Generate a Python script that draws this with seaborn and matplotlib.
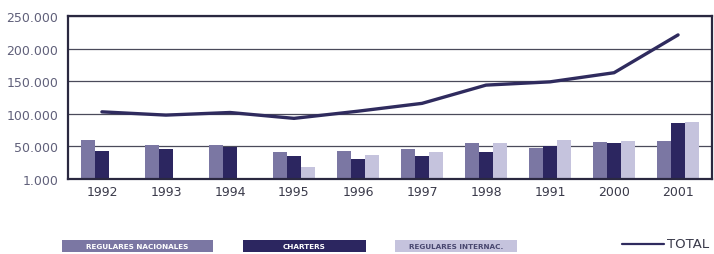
import matplotlib
matplotlib.use("Agg")
import matplotlib.pyplot as plt
from matplotlib.patches import Rectangle
from matplotlib.lines import Line2D
import numpy as np
import pandas as pd
import seaborn as sns

years = ["1992", "1993", "1994", "1995", "1996", "1997", "1998", "1991", "2000", "2001"]
regulares_nacionales = [60000, 52000, 52000, 42000, 43000, 46000, 55000, 48000, 57000, 58000]
charters = [43000, 46000, 49500, 35000, 31000, 35000, 42000, 51000, 55000, 86000]
regulares_internac = [0, 0, 0, 18000, 37000, 41000, 55000, 60000, 58000, 88000]
total = [103000, 98000, 102000, 93000, 104000, 116000, 144000, 149000, 163000, 221000]

series_names = ["REGULARES NACIONALES", "CHARTERS", "REGULARES INTERNAC."]
total_name = "TOTAL"
ytick_values = [0, 50000, 100000, 150000, 200000, 250000]
ytick_labels = ["1.000", "50.000", "100.000", "150.000", "200.000", "250.000"]

colors = ["#7b77a3", "#2c2660", "#c5c3dd"]
line_color = "#2f2b5e"

df = pd.DataFrame({
    "year": years * 3,
    "value": regulares_nacionales + charters + regulares_internac,
    "serie": [series_names[0]] * len(years) + [series_names[1]] * len(years) + [series_names[2]] * len(years),
})

sns.set_style("white")
plt.rcParams["font.family"] = ["DejaVu Sans"]

fig = plt.figure(figsize=(7.14, 2.55), dpi=100)
ax = fig.add_axes([68 / 714, 1 - 180 / 255, (712 - 68) / 714, (180 - 17) / 255])

sns.barplot(data=df, x="year", y="value", hue="serie", order=years, hue_order=series_names,
            palette=colors, width=0.66, gap=0, saturation=1, legend=False, ax=ax,
            linewidth=0, errorbar=None)
sns.lineplot(x=np.arange(len(years)), y=total, color=line_color, linewidth=2.4, ax=ax, sort=False)

ax.set_xlim(-0.53, len(years) - 0.47)
ax.set_ylim(0, 250000)
ax.set_yticks(ytick_values)
ax.set_yticklabels(ytick_labels, color="#60607a", fontsize=9)
ax.set_xticks(np.arange(len(years)))
ax.set_xticklabels(years, color="#3a3a4a", fontsize=9)
ax.set_xticks(np.arange(len(years) - 1) + 0.5, minor=True)
ax.tick_params(axis="x", which="major", length=0, pad=4)
ax.tick_params(axis="x", which="minor", length=12, width=0.8, color="#999999", direction="out", pad=2)
ax.tick_params(axis="y", length=0, pad=7)
ax.set_xlabel("")
ax.set_ylabel("")
ax.yaxis.grid(True, color="#4a4a5a", linewidth=0.9)
ax.set_axisbelow(True)
for s in ax.spines.values():
    s.set_visible(True)
    s.set_color("#2a2840")
    s.set_linewidth(1.6)

# legend row
W, H = 714, 255
boxes = [(62, 213, colors[0], "white"), (243, 366, colors[1], "white"), (395, 517, colors[2], "#4a4870")]
for (x0, x1, c, tc), name in zip(boxes, series_names):
    fig.patches.append(Rectangle((x0 / W, 1 - 253 / H), (x1 - x0) / W, 12 / H,
                                 transform=fig.transFigure, facecolor=c, edgecolor="none"))
    fig.text((x0 + x1) / 2 / W, 1 - 247 / H, name, color=tc, fontsize=5.2, fontweight="bold",
             ha="center", va="center")
fig.lines.append(Line2D([622 / W, 664 / W], [1 - 245 / H, 1 - 245 / H], transform=fig.transFigure,
                        color=line_color, linewidth=1.6))
fig.text(667 / W, 1 - 245 / H, total_name, color="#3a3a4a", fontsize=9.5, ha="left", va="center")

fig.savefig("out.png", dpi=100)
